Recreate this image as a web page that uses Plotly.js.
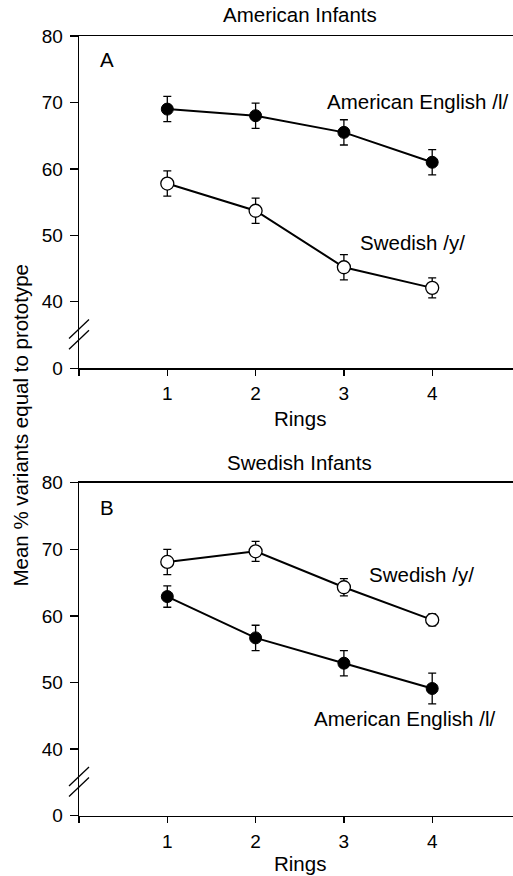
<!DOCTYPE html>
<html>
<head>
<meta charset="utf-8">
<script src="https://cdn.plot.ly/plotly-3.0.1.min.js"></script>
<style>html,body{margin:0;padding:0;background:#fff;}#chart{width:513px;height:876px;}</style>
</head>
<body>
<div id="chart"></div>
<script>
// ---- data ----
const rings = [1, 2, 3, 4];
// Panel A: American infants
const amEngA = [69.0, 68.0, 65.5, 61.0];
const amEngAErr = [1.9, 1.9, 1.9, 1.9];
const swedA = [57.8, 53.7, 45.2, 42.1];
const swedAErr = [1.9, 1.9, 1.9, 1.5];
// Panel B: Swedish infants
const swedB = [68.1, 69.7, 64.3, 59.4];
const swedBErr = [1.9, 1.5, 1.3, 0.9];
const amEngB = [62.9, 56.7, 52.9, 49.1];
const amEngBErr = [1.6, 1.9, 1.9, 2.3];
// axis: "0" drawn at the break position (axis value 30)
const yTickVals = [30, 40, 50, 60, 70, 80];
const yTickText = ['0', '40', '50', '60', '70', '80'];
const xTickVals = [0, 1, 2, 3, 4];
const xTickText = ['', '1', '2', '3', '4'];
const panelTitles = ['American Infants', 'Swedish Infants'];
const seriesNames = ['American English /l/', 'Swedish /y/'];

const FONT = 'Liberation Sans, Arial, Helvetica, sans-serif';

function series(y, err, filled, xa, ya, name) {
  return {
    x: rings, y: y, name: name, xaxis: xa, yaxis: ya,
    type: 'scatter', mode: 'lines+markers',
    line: {color: '#000', width: 2},
    marker: filled ? {color: '#000', size: 12, line: {color: '#000', width: 1}}
                   : {color: '#fff', size: 13, line: {color: '#000', width: 1.3}},
    error_y: {type: 'data', array: err, visible: true, color: '#000', thickness: 1.3, width: 4},
    showlegend: false, cliponaxis: false
  };
}

const data = [
  series(amEngA, amEngAErr, true, 'x', 'y', seriesNames[0]),
  series(swedA, swedAErr, false, 'x', 'y', seriesNames[1]),
  series(swedB, swedBErr, false, 'x2', 'y2', seriesNames[1]),
  series(amEngB, amEngBErr, true, 'x2', 'y2', seriesNames[0])
];

function xaxis(anchor) {
  return {
    anchor: anchor, domain: [0, 1], range: [0, 4.915],
    tickmode: 'array', tickvals: xTickVals, ticktext: xTickText,
    ticks: 'outside', ticklen: 6, tickwidth: 1.3, tickcolor: '#000',
    showline: true, linecolor: '#000', linewidth: 1.3, mirror: true,
    showgrid: false, zeroline: false,
    tickfont: {family: FONT, size: 19, color: '#000'}, ticklabelstandoff: 2
  };
}
function yaxis(anchor, dom) {
  return {
    anchor: anchor, domain: dom, range: [30, 80],
    tickmode: 'array', tickvals: yTickVals, ticktext: yTickText,
    ticks: 'outside', ticklen: 8, tickwidth: 1.3, tickcolor: '#000',
    showline: true, linecolor: '#000', linewidth: 1.3, mirror: false,
    showgrid: false, zeroline: false,
    tickfont: {family: FONT, size: 19, color: '#000'}, ticklabelstandoff: 3
  };
}

// axis-break marks, placed relative to the subplot domain (not clipped)
function brk(xa, ya, yc) {
  return {type: 'line', xref: xa + ' domain', yref: ya + ' domain',
    xsizemode: 'pixel', xanchor: 0, x0: -10, x1: 10,
    ysizemode: 'pixel', yanchor: yc, y0: -9.5, y1: 9.5,
    line: {color: '#000', width: 1.3}};
}

function ann(text, x, y, xa, ya, opts) {
  return Object.assign({text: text, x: x, y: y, xref: xa, yref: ya,
    showarrow: false, xanchor: 'left', yanchor: 'middle',
    font: {family: FONT, size: 20.5, color: '#000'}}, opts || {});
}

const layout = {
  width: 513, height: 876,
  margin: {l: 79, r: 0, t: 0, b: 0},
  paper_bgcolor: '#fff', plot_bgcolor: '#fff',
  xaxis: xaxis('y'),
  yaxis: yaxis('x', [0.5796, 0.9589]),
  xaxis2: xaxis('y2'),
  yaxis2: yaxis('x2', [0.0688, 0.4490]),
  shapes: [
    brk('x', 'y', 0.118), brk('x', 'y', 0.086),
    brk('x2', 'y2', 0.118), brk('x2', 'y2', 0.086)
  ],
  annotations: [
    ann(panelTitles[0], 0.509, 0.984, 'paper', 'paper', {xanchor: 'center'}),
    ann(panelTitles[1], 0.509, 0.4715, 'paper', 'paper', {xanchor: 'center'}),
    ann('Rings', 0.509, 1 - 418 / 876, 'paper', 'paper', {xanchor: 'center'}),
    ann('Rings', 0.509, 1 - 863 / 876, 'paper', 'paper', {xanchor: 'center'}),
    ann('Mean % variants equal to prototype', -0.137, 1 - 425 / 876, 'paper', 'paper', {xanchor: 'center', textangle: -90}),
    ann('A', 0.32, 76.5, 'x', 'y', {xanchor: 'center'}),
    ann('B', 0.32, 76.3, 'x2', 'y2', {xanchor: 'center'}),
    ann(seriesNames[0], 2.79, 70.2, 'x', 'y'),
    ann(seriesNames[1], 3.156, 48.95, 'x', 'y'),
    ann(seriesNames[1], 3.266, 66.25, 'x2', 'y2'),
    ann(seriesNames[0], 2.643, 44.6, 'x2', 'y2')
  ]
};

Plotly.newPlot('chart', data, layout, {displayModeBar: false, staticPlot: true});
</script>
</body>
</html>
